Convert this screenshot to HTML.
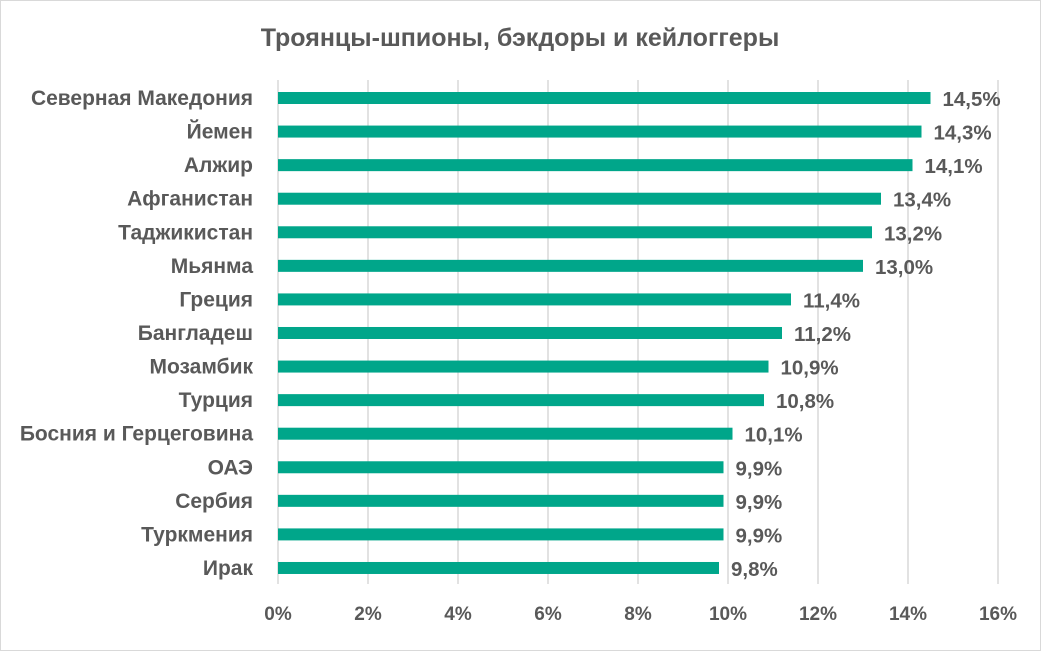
<!DOCTYPE html>
<html><head><meta charset="utf-8"><style>
body{margin:0;background:#fff}
svg text{font-family:"Liberation Sans",sans-serif;font-weight:bold;fill:#595959}
</style></head><body>
<svg width="1041" height="651">
<rect x="0.5" y="0.5" width="1040" height="650" fill="#fff" stroke="#d9d9d9"/>
<text x="520" y="46" text-anchor="middle" font-size="25">Троянцы-шпионы, бэкдоры и кейлоггеры</text>
<g id="grid"></g><g id="bars"></g>
</svg>
<script>
const categories=["Северная Македония","Йемен","Алжир","Афганистан","Таджикистан","Мьянма","Греция","Бангладеш","Мозамбик","Турция","Босния и Герцеговина","ОАЭ","Сербия","Туркмения","Ирак"];
const values=[14.5,14.3,14.1,13.4,13.2,13.0,11.4,11.2,10.9,10.8,10.1,9.9,9.9,9.9,9.8];
const ticks=[0,2,4,6,8,10,12,14,16];
const NS="http://www.w3.org/2000/svg";
const x=v=>278+v*45;
const y=i=>98+i*33.57;
const grid=document.getElementById('grid'),bars=document.getElementById('bars');
ticks.forEach(t=>{
 const l=document.createElementNS(NS,'line');
 
 
 l.setAttribute('x1',x(t));l.setAttribute('x2',x(t));l.setAttribute('y1',80);l.setAttribute('y2',584);
 l.setAttribute('stroke','#d9d9d9');l.setAttribute('stroke-width','1.5');grid.appendChild(l);
 const tx=document.createElementNS(NS,'text');
 
 
 tx.setAttribute('x',x(t));tx.setAttribute('y',620);tx.setAttribute('text-anchor','middle');tx.setAttribute('font-size','19');
 tx.textContent=t+'%';grid.appendChild(tx);
});
categories.forEach((c,i)=>{
 const r=document.createElementNS(NS,'rect');
 
 
 r.setAttribute('x',x(0));r.setAttribute('y',y(i)-6);r.setAttribute('width',x(values[i])-x(0));r.setAttribute('height',12);r.setAttribute('fill','#00a68a');
 bars.appendChild(r);
 const lb=document.createElementNS(NS,'text');
 
 
 lb.setAttribute('x',253);lb.setAttribute('y',y(i)+7);lb.setAttribute('text-anchor','end');lb.setAttribute('font-size','21');
 lb.textContent=c;bars.appendChild(lb);
 const vl=document.createElementNS(NS,'text');
 
 
 vl.setAttribute('x',x(values[i])+12);vl.setAttribute('y',y(i)+8);vl.setAttribute('font-size','20.5');
 vl.textContent=values[i].toFixed(1).replace('.',',')+'%';bars.appendChild(vl);
});
</script>
</body></html>
